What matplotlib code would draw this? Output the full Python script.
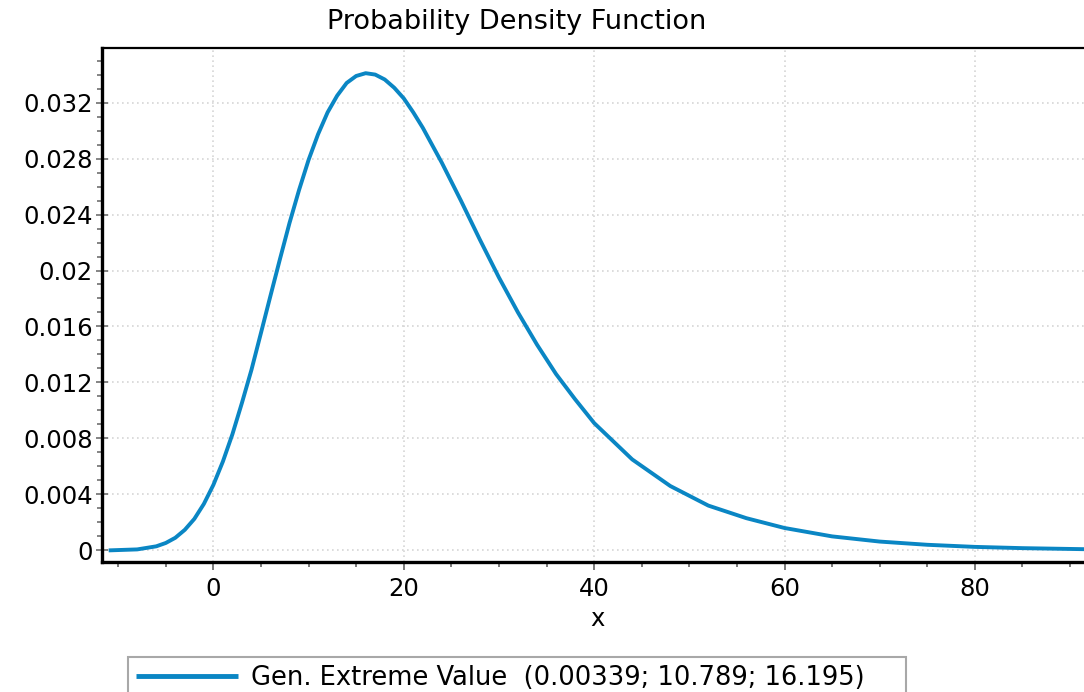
import matplotlib
matplotlib.use("Agg")
import matplotlib.pyplot as plt
from matplotlib.ticker import MultipleLocator

# values
x_vals = [-11, -8, -6, -5, -4, -3, -2, -1, 0, 1, 2, 3, 4, 5, 6, 7, 8, 9, 10,
          11, 12, 13, 14, 15, 16, 17, 18, 19, 20, 21, 22, 24, 26, 28, 30, 32,
          34, 36, 38, 40, 44, 48, 52, 56, 60, 65, 70, 75, 80, 85, 92]
pdf_vals = [0.0, 0.00007, 0.00029, 0.00053, 0.0009, 0.00147, 0.00225, 0.00332,
            0.00468, 0.00635, 0.0083, 0.01054, 0.0129, 0.01554, 0.0182, 0.02083,
            0.0234, 0.02575, 0.0279, 0.02974, 0.0313, 0.03249, 0.0334, 0.0339,
            0.0341, 0.0340, 0.03365, 0.03306, 0.0323, 0.0313, 0.0302, 0.0277,
            0.0250, 0.0222, 0.0195, 0.0170, 0.0147, 0.0126, 0.0108, 0.0091,
            0.0065, 0.0046, 0.0032, 0.0023, 0.0016, 0.0010, 0.00063, 0.0004,
            0.00025, 0.00016, 0.00008]

x_ticks = [0, 20, 40, 60, 80]
y_ticks = [0, 0.004, 0.008, 0.012, 0.016, 0.02, 0.024, 0.028, 0.032]
y_tick_labels = ['0', '0.004', '0.008', '0.012', '0.016', '0.02', '0.024', '0.028', '0.032']
legend_label = 'Gen. Extreme Value  (0.00339; 10.789; 16.195)'

blue = '#0a86c4'
W, H = 1084, 692

plt.rcParams['font.family'] = ['DejaVu Sans']
fig = plt.figure(figsize=(W / 100, H / 100), dpi=100)
ax = fig.add_axes([102 / W, 1 - 562 / H, 1 - 102 / W + 0.01, (562 - 48) / H])

line, = ax.plot(x_vals, pdf_vals, color=blue, lw=2.8, solid_capstyle='butt')

ax.set_xlim(-11.7, 92.6)
ax.set_ylim(-0.00083, 0.0359)

ax.set_xticks(x_ticks)
ax.xaxis.set_minor_locator(MultipleLocator(5))
ax.set_yticks(y_ticks)
ax.set_yticklabels(y_tick_labels)
ax.yaxis.set_minor_locator(MultipleLocator(0.001))

ax.tick_params(axis='x', which='major', direction='out', length=6, width=1.3,
               color='#707070', labelsize=17.5, pad=5)
ax.tick_params(axis='x', which='minor', direction='out', length=3.5, width=1.3,
               color='#707070')
ax.tick_params(axis='y', which='major', direction='inout', length=9, width=1.2,
               color='#707070', labelsize=17.5, pad=2)
ax.tick_params(axis='y', which='minor', direction='out', length=3.5, width=1.2,
               color='#707070')

ax.grid(True, which='major', color='#d6d6d6', linestyle=(0, (1, 2)), lw=1.2)

for side in ['left', 'bottom']:
    ax.spines[side].set_linewidth(2.4)
    ax.spines[side].set_color('black')
ax.spines['top'].set_linewidth(1.6)
ax.spines['right'].set_visible(False)

fig.text(517 / W, 1 - 22 / H, 'Probability Density Function', ha='center',
         va='center', fontsize=19.5)
fig.text(597 / W, 1 - 619 / H, 'x', ha='center', va='center', fontsize=17.5)

# legend box: left 128 px, right 906 px, top 657 px (runs off the bottom)
leg_top = 1 - 657 / H
leg = fig.legend([line], [legend_label], loc='upper left',
                 bbox_to_anchor=(128 / W, leg_top - 0.1, (906 - 128) / W, 0.1),
                 mode='expand', borderaxespad=0, fontsize=18.5, handlelength=4,
                 handletextpad=0.5, borderpad=0.3, fancybox=False,
                 edgecolor='#a8a8a8', framealpha=1)
leg.get_frame().set_linewidth(1.5)
leg.get_lines()[0].set_linewidth(3.5)

fig.savefig('out.png', dpi=100)
